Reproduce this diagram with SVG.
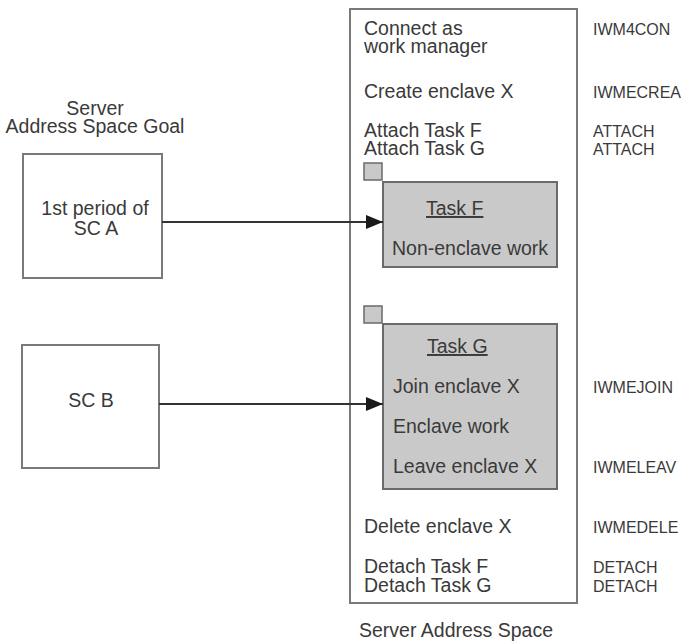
<svg xmlns="http://www.w3.org/2000/svg" width="686" height="642" viewBox="0 0 686 642">
  <style>
    .t { font-family: "Liberation Sans", Arial, sans-serif; font-size: 19.5px; fill: #3a3a3a; }
    .r { font-family: "Liberation Sans", Arial, sans-serif; font-size: 16px; fill: #3a3a3a; }
    .c { text-anchor: middle; }
    .box { fill: #ffffff; stroke: #7a7a7a; stroke-width: 2; }
    .task { fill: #c9c9c9; stroke: #6a6a6a; stroke-width: 2; }
    .sq { fill: #c9c9c9; stroke: #6a6a6a; stroke-width: 1.5; }
    .conn { stroke: #333333; stroke-width: 2; fill: none; }
  </style>
  <defs>
    <marker id="arrow" markerUnits="userSpaceOnUse" markerWidth="18" markerHeight="14" refX="17" refY="7" orient="auto">
      <path d="M0,0 L17,7 L0,14 Z" fill="#1a1a1a"/>
    </marker>
  </defs>

  <g id="server-address-space">
    <rect class="box" x="350" y="9" width="227" height="594"/>
    <text class="t" x="364" y="35">Connect as</text>
    <text class="t" x="364" y="53">work manager</text>
    <text class="t" x="364" y="98">Create enclave  X</text>
    <text class="t" x="364" y="137">Attach Task F</text>
    <text class="t" x="364" y="155">Attach Task G</text>
    <text class="t" x="364" y="533">Delete enclave X</text>
    <text class="t" x="364" y="573">Detach Task F</text>
    <text class="t" x="364" y="592">Detach Task G</text>
    <text class="t" x="359" y="637">Server Address Space</text>
  </g>

  <g id="macros">
    <text class="r" x="593" y="35">IWM4CON</text>
    <text class="r" x="593" y="98">IWMECREA</text>
    <text class="r" x="593" y="137">ATTACH</text>
    <text class="r" x="593" y="155">ATTACH</text>
    <text class="r" x="593" y="393">IWMEJOIN</text>
    <text class="r" x="593" y="473">IWMELEAV</text>
    <text class="r" x="593" y="533">IWMEDELE</text>
    <text class="r" x="593" y="573">DETACH</text>
    <text class="r" x="593" y="592">DETACH</text>
  </g>

  <g id="task-f">
    <rect class="sq" x="364" y="163" width="18" height="17"/>
    <rect class="task" x="383" y="182" width="174" height="85"/>
    <text class="t" x="426" y="215" text-decoration="underline">Task F</text>
    <text class="t" x="392" y="255">Non-enclave work</text>
  </g>

  <g id="task-g">
    <rect class="sq" x="364" y="306" width="18" height="17"/>
    <rect class="task" x="383" y="324" width="174" height="165"/>
    <text class="t" x="427" y="353" text-decoration="underline">Task G</text>
    <text class="t" x="393" y="393">Join enclave X</text>
    <text class="t" x="393" y="433">Enclave work</text>
    <text class="t" x="393" y="473">Leave enclave X</text>
  </g>

  <g id="goal-label">
    <text class="t c" x="95" y="115">Server</text>
    <text class="t c" x="95" y="133">Address Space Goal</text>
  </g>

  <g id="sc-a">
    <rect class="box" x="23" y="154" width="139" height="124"/>
    <text class="t c" x="95" y="215">1st period of</text>
    <text class="t c" x="96" y="235">SC A</text>
  </g>

  <g id="sc-b">
    <rect class="box" x="22" y="345" width="137" height="123"/>
    <text class="t c" x="91" y="407">SC B</text>
  </g>

  <g id="connectors">
    <line class="conn" x1="162" y1="222" x2="383" y2="222" marker-end="url(#arrow)"/>
    <line class="conn" x1="159" y1="404" x2="383" y2="404" marker-end="url(#arrow)"/>
  </g>
</svg>
